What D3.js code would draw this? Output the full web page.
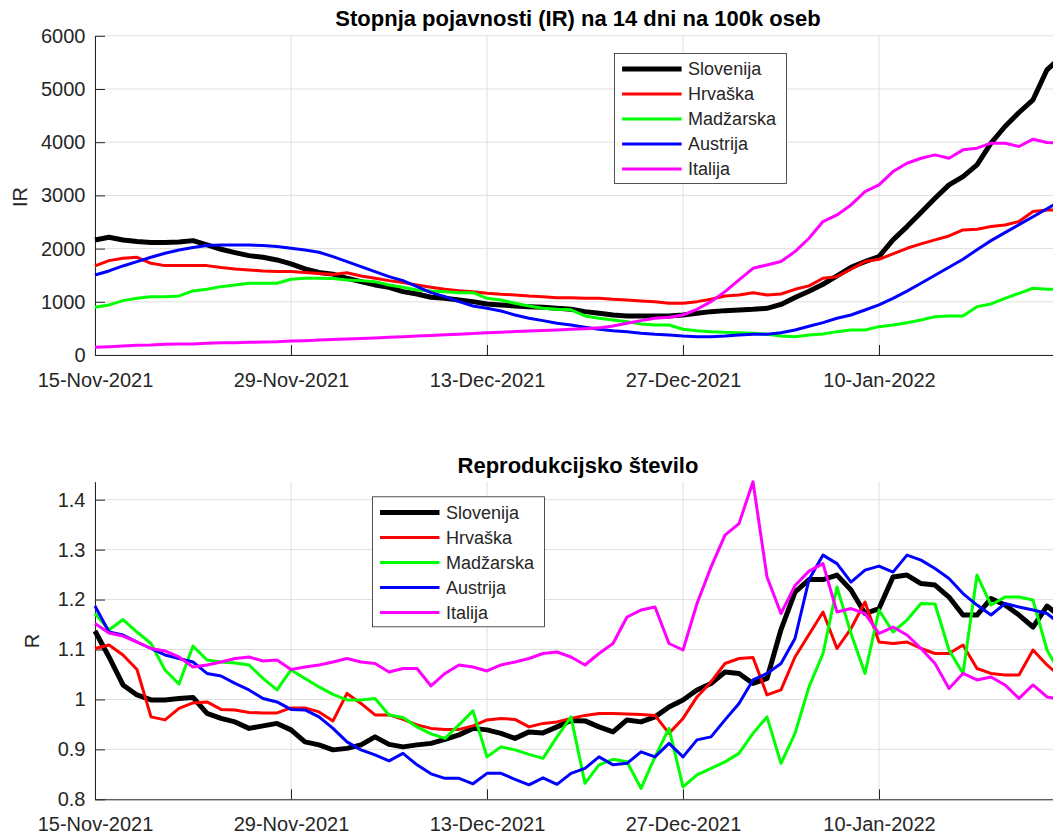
<!DOCTYPE html>
<html>
<head>
<meta charset="utf-8">
<script src="https://cdn.jsdelivr.net/npm/d3@7"></script>
<style>
  body { margin: 0; background: #fff; }
  svg { display: block; font-family: "Liberation Sans", Arial, Helvetica, sans-serif; }
</style>
</head>
<body>
<div id="chart"></div>
<script>
let chart_width = 1053
let chart_height = 835

let countries = ['Slovenija', 'Hrvaška', 'Madžarska', 'Austrija', 'Italija']
let colors = ['#000000', '#ff0000', '#00ff00', '#0000ff', '#ff00ff']
let widths = [5, 3, 3, 3, 3]

// one value per day, 15-Nov-2021 .. 23-Jan-2022
let dates = d3.timeDay.range(new Date(2021, 10, 15), new Date(2022, 0, 24))
let date_ticks = [new Date(2021, 10, 15), new Date(2021, 10, 29), new Date(2021, 11, 13), new Date(2021, 11, 27), new Date(2022, 0, 10)]

// incidence rate, 14 days per 100k
let ir_slo = [2163, 2213, 2163, 2132, 2113, 2113, 2125, 2150, 2069, 1988,
  1925, 1868, 1837, 1787, 1712, 1618, 1550, 1520, 1442, 1379,
  1317, 1273, 1191, 1147, 1085, 1066, 1034, 1003, 959, 941,
  922, 909, 897, 878, 860, 815, 784, 752, 734, 734,
  734, 734, 752, 784, 815, 834, 846, 859, 878, 950,
  1080, 1200, 1330, 1486, 1649, 1756, 1850, 2163, 2414, 2677,
  2947, 3198, 3354, 3574, 3981, 4295, 4558, 4797, 5361, 5600]
let ir_hrv = [1674, 1774, 1818, 1837, 1724, 1680, 1680, 1680, 1680, 1643,
  1618, 1599, 1580, 1568, 1568, 1549, 1530, 1515, 1545, 1486,
  1442, 1398, 1361, 1317, 1273, 1235, 1210, 1191, 1160, 1141,
  1129, 1110, 1097, 1078, 1075, 1066, 1066, 1047, 1034, 1016,
  1003, 972, 972, 1003, 1047, 1110, 1129, 1172, 1129, 1147,
  1235, 1300, 1442, 1473, 1611, 1756, 1800, 1900, 2006, 2088,
  2163, 2238, 2351, 2364, 2414, 2445, 2508, 2696, 2727, 2727]
let ir_hun = [897, 941, 1022, 1066, 1097, 1097, 1110, 1204, 1235, 1285,
  1317, 1348, 1348, 1348, 1423, 1442, 1442, 1440, 1411, 1398,
  1379, 1317, 1273, 1223, 1204, 1191, 1172, 1172, 1066, 1034,
  972, 922, 878, 859, 850, 734, 690, 658, 627, 583,
  564, 564, 483, 458, 439, 426, 420, 408, 389, 357,
  345, 376, 395, 439, 470, 470, 533, 564, 608, 658,
  721, 734, 734, 909, 959, 1066, 1160, 1254, 1235, 1235]
let ir_aut = [1505, 1580, 1674, 1756, 1837, 1912, 1975, 2019, 2057, 2069,
  2069, 2069, 2057, 2038, 2006, 1975, 1931, 1850, 1756, 1662,
  1567, 1473, 1398, 1285, 1172, 1097, 1003, 922, 878, 828,
  753, 690, 646, 596, 564, 520, 483, 458, 439, 408,
  389, 376, 357, 345, 345, 357, 376, 389, 389, 420,
  470, 540, 608, 690, 752, 846, 941, 1066, 1200, 1350,
  1500, 1650, 1800, 1980, 2150, 2300, 2450, 2600, 2750, 2900]
let ir_ita = [144, 157, 169, 182, 188, 201, 207, 207, 219, 232,
  232, 238, 245, 251, 263, 270, 282, 292, 300, 310,
  320, 332, 344, 356, 368, 380, 392, 404, 416, 428,
  440, 452, 462, 472, 482, 495, 510, 545, 596, 646,
  690, 709, 752, 859, 1003, 1191, 1411, 1630, 1693, 1756,
  1944, 2194, 2508, 2633, 2821, 3072, 3198, 3448, 3605, 3699,
  3762, 3699, 3856, 3887, 3981, 3981, 3919, 4057, 3994, 3981]

// reproduction number
let r_slo = [1.137, 1.085, 1.029, 1.009, 0.999, 0.999, 1.002, 1.004, 0.972, 0.962,
  0.955, 0.942, 0.947, 0.952, 0.939, 0.915, 0.909, 0.899, 0.902, 0.909,
  0.925, 0.91, 0.905, 0.909, 0.912, 0.92, 0.929, 0.942, 0.939, 0.932,
  0.922, 0.935, 0.933, 0.945, 0.958, 0.957, 0.945, 0.935, 0.959, 0.955,
  0.965, 0.985, 0.999, 1.019, 1.032, 1.055, 1.052, 1.032, 1.042, 1.14,
  1.215, 1.24, 1.24, 1.249, 1.219, 1.172, 1.182, 1.245, 1.249, 1.232,
  1.229, 1.205, 1.169, 1.169, 1.202, 1.189, 1.169, 1.145, 1.187, 1.165]
let r_hrv = [1.102, 1.109, 1.089, 1.06, 0.965, 0.959, 0.982, 0.993, 0.995, 0.98,
  0.979, 0.974, 0.973, 0.973, 0.983, 0.983, 0.975, 0.957, 1.012, 0.992,
  0.969, 0.969, 0.96, 0.949, 0.942, 0.94, 0.94, 0.947, 0.959, 0.962,
  0.96, 0.945, 0.952, 0.955, 0.962, 0.968, 0.972, 0.972, 0.971, 0.97,
  0.968, 0.932, 0.962, 1.005, 1.035, 1.072, 1.082, 1.084, 1.009, 1.019,
  1.085, 1.13, 1.175, 1.102, 1.142, 1.195, 1.115, 1.112, 1.115, 1.102,
  1.092, 1.092, 1.109, 1.062, 1.052, 1.049, 1.049, 1.099, 1.069, 1.045]
let r_hun = [1.172, 1.139, 1.16, 1.135, 1.112, 1.059, 1.031, 1.107, 1.079, 1.075,
  1.073, 1.069, 1.042, 1.019, 1.059, 1.042, 1.025, 1.01, 0.999, 0.999,
  1.002, 0.969, 0.964, 0.945, 0.931, 0.922, 0.949, 0.977, 0.885, 0.905,
  0.899, 0.89, 0.882, 0.925, 0.965, 0.832, 0.869, 0.88, 0.875, 0.822,
  0.885, 0.942, 0.825, 0.849, 0.862, 0.875, 0.892, 0.932, 0.965, 0.872,
  0.932, 1.025, 1.092, 1.225, 1.132, 1.052, 1.179, 1.135, 1.159, 1.192,
  1.191, 1.099, 1.052, 1.249, 1.189, 1.205, 1.205, 1.199, 1.099, 1.05]
let r_aut = [1.187, 1.135, 1.129, 1.115, 1.102, 1.089, 1.082, 1.075, 1.052, 1.047,
  1.032, 1.019, 1.002, 0.995, 0.98, 0.979, 0.965, 0.942, 0.915, 0.899,
  0.889, 0.877, 0.892, 0.869, 0.851, 0.842, 0.842, 0.831, 0.852, 0.852,
  0.84, 0.829, 0.843, 0.83, 0.852, 0.862, 0.885, 0.869, 0.872, 0.895,
  0.885, 0.912, 0.885, 0.919, 0.925, 0.959, 0.992, 1.039, 1.052, 1.072,
  1.122, 1.24, 1.289, 1.272, 1.235, 1.259, 1.267, 1.255, 1.289, 1.279,
  1.262, 1.242, 1.212, 1.189, 1.169, 1.192, 1.185, 1.179, 1.172, 1.15]
let r_ita = [1.152, 1.133, 1.127, 1.115, 1.102, 1.097, 1.085, 1.065, 1.069, 1.075,
  1.082, 1.085, 1.077, 1.079, 1.06, 1.065, 1.069, 1.075, 1.082, 1.075,
  1.072, 1.055, 1.062, 1.062, 1.027, 1.052, 1.069, 1.065, 1.057, 1.069,
  1.075, 1.082, 1.092, 1.095, 1.085, 1.069, 1.092, 1.112, 1.165, 1.179,
  1.185, 1.112, 1.099, 1.192, 1.265, 1.329, 1.352, 1.436, 1.245, 1.172,
  1.228, 1.257, 1.272, 1.175, 1.182, 1.172, 1.132, 1.145, 1.129, 1.102,
  1.072, 1.022, 1.052, 1.039, 1.045, 1.029, 1.002, 1.029, 1.005, 1.0]

let ir_ticks = [0, 1000, 2000, 3000, 4000, 5000, 6000]
let r_ticks = [0.8, 0.9, 1, 1.1, 1.2, 1.3, 1.4]

let left = 95
let right = 1061
let grid_color = '#dfdfdf'
let axis_color = '#262626'

const svg = d3.select('#chart').append('svg')
    .attr('width', chart_width)
    .attr('height', chart_height)

let x = d3.scaleTime()
    .domain([dates[0], dates[dates.length - 1]])
    .range([left, right])

function panel(cfg) {
    let y = d3.scaleLinear().domain(cfg.domain).range([cfg.bottom, cfg.top])
    let g = svg.append('g')

    // grid
    g.append('g').selectAll('line')
        .data(cfg.ticks)
        .join('line')
        .attr('x1', left).attr('x2', right)
        .attr('y1', d => y(d)).attr('y2', d => y(d))
        .attr('stroke', grid_color)
    g.append('g').selectAll('line')
        .data(date_ticks)
        .join('line')
        .attr('x1', d => x(d)).attr('x2', d => x(d))
        .attr('y1', cfg.top).attr('y2', cfg.bottom)
        .attr('stroke', grid_color)

    // axes, ticks pointing inside like matlab
    let xAxis = g.append('g')
        .attr('transform', `translate(0,${cfg.bottom})`)
        .call(d3.axisBottom(x).tickValues(date_ticks).tickFormat(d3.timeFormat('%d-%b-%Y'))
            .tickSizeInner(-10).tickSizeOuter(0).tickPadding(18))
    let yAxis = g.append('g')
        .attr('transform', `translate(${left},0)`)
        .call(d3.axisLeft(y).tickValues(cfg.ticks).tickFormat(d => String(d))
            .tickSizeInner(-10).tickSizeOuter(0).tickPadding(9.5))
    for (let a of [xAxis, yAxis]) {
        a.attr('font-size', 20).attr('font-family', null)
        a.select('.domain').attr('stroke', axis_color)
        a.selectAll('.tick line').attr('stroke', axis_color)
        a.selectAll('.tick text').attr('fill', axis_color)
    }

    g.append('text')
        .attr('transform', `translate(${cfg.ylabel_x},${cfg.ylabel_y}) rotate(-90)`)
        .attr('text-anchor', 'middle')
        .attr('font-size', 20)
        .attr('fill', axis_color)
        .text(cfg.ylabel)

    g.append('text')
        .attr('x', 578)
        .attr('y', cfg.title_y)
        .attr('text-anchor', 'middle')
        .attr('font-size', 22)
        .attr('font-weight', 'bold')
        .attr('fill', '#000')
        .text(cfg.title)

    let line = d3.line()
        .x((d, i) => x(dates[i]))
        .y(d => y(d))

    g.append('g').selectAll('path')
        .data(cfg.series)
        .join('path')
        .attr('fill', 'none')
        .attr('stroke', (d, i) => colors[i])
        .attr('stroke-width', (d, i) => widths[i])
        .attr('stroke-linejoin', 'round')
        .attr('d', line)

    // legend
    let lg = g.append('g').attr('transform', `translate(${cfg.legend[0]},${cfg.legend[1]})`)
    lg.append('rect')
        .attr('width', 172).attr('height', 130)
        .attr('fill', '#fff')
        .attr('stroke', axis_color)
        .attr('stroke-width', 0.8)
    let item = lg.selectAll('g')
        .data(countries)
        .join('g')
        .attr('transform', (d, i) => `translate(0,${15.6 + i * 25})`)
    item.append('line')
        .attr('x1', 7.5).attr('x2', 67)
        .attr('stroke', (d, i) => colors[i])
        .attr('stroke-width', (d, i) => widths[i])
    item.append('text')
        .attr('x', 73.5)
        .attr('dy', '0.35em')
        .attr('font-size', 18)
        .attr('fill', axis_color)
        .text(d => d)
}

panel({
    top: 35.8, bottom: 355, domain: [0, 6000], ticks: ir_ticks,
    series: [ir_slo, ir_hrv, ir_hun, ir_aut, ir_ita],
    title: 'Stopnja pojavnosti (IR) na 14 dni na 100k oseb', title_y: 26,
    ylabel: 'IR', ylabel_x: 27, ylabel_y: 197,
    legend: [614.6, 53.4]
})

panel({
    top: 481.7, bottom: 799.3, domain: [0.8, 1.436], ticks: r_ticks,
    series: [r_slo, r_hrv, r_hun, r_aut, r_ita],
    title: 'Reprodukcijsko število', title_y: 472.5,
    ylabel: 'R', ylabel_x: 39, ylabel_y: 641,
    legend: [372.5, 496.8]
})
</script>
</body>
</html>
